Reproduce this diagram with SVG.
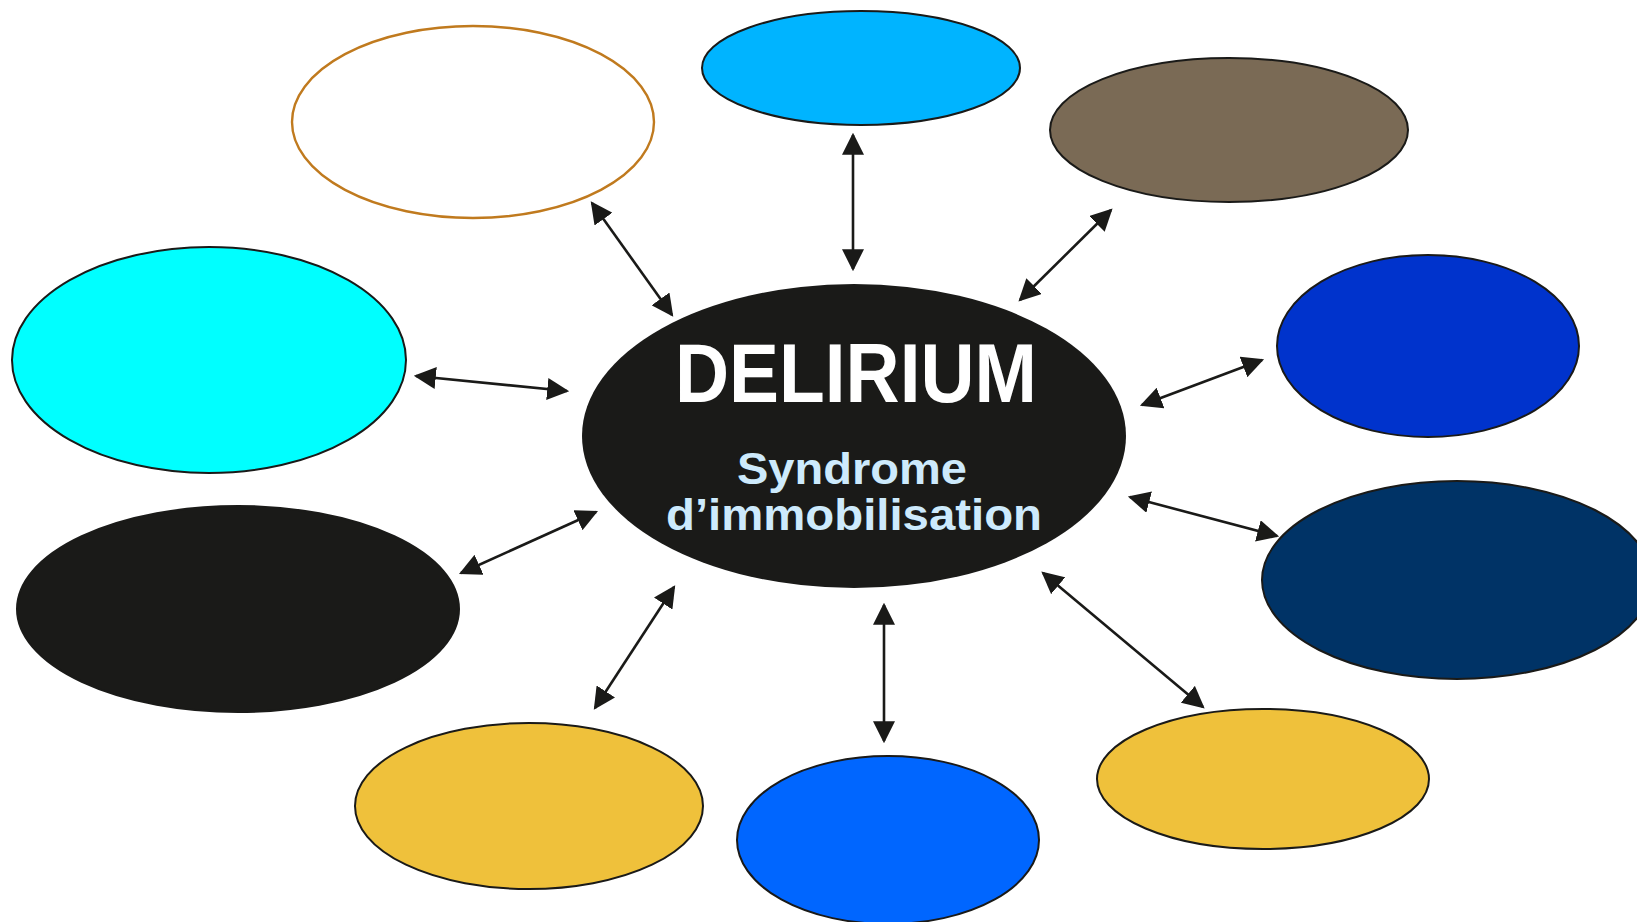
<svg xmlns="http://www.w3.org/2000/svg" width="1637" height="922" viewBox="0 0 1637 922">
<style>
.n{stroke:#1a1a18;stroke-width:2}
.c line{stroke:#1a1a18;stroke-width:2.6;marker-start:url(#ah);marker-end:url(#ah)}
.t{font-family:"Liberation Sans",Arial,sans-serif;font-weight:bold;text-anchor:middle}
</style>
<defs>
<marker id="ah" markerUnits="userSpaceOnUse" markerWidth="22" markerHeight="22" viewBox="0 0 20 20" refX="18" refY="10" orient="auto-start-reverse">
<path d="M0,0 L20,10 L0,20 z" fill="#1a1a18"/>
</marker>
</defs>
<rect width="1637" height="922" fill="#ffffff"/>
<g id="n1"><ellipse cx="473" cy="122" rx="181" ry="96" fill="#ffffff" stroke="#c07a1e" stroke-width="2.4"/></g>
<g id="n2"><ellipse class="n" cx="861" cy="68" rx="159" ry="57" fill="#00b4ff"/></g>
<g id="n3"><ellipse class="n" cx="1229" cy="130" rx="179" ry="72" fill="#7a6a55"/></g>
<g id="n4"><ellipse class="n" cx="209" cy="360" rx="197" ry="113" fill="#00ffff"/></g>
<g id="n5"><ellipse class="n" cx="1428" cy="346" rx="151" ry="91" fill="#0033cc"/></g>
<g id="n6"><ellipse class="n" cx="238" cy="609" rx="221" ry="103" fill="#1a1a18"/></g>
<g id="n7"><ellipse class="n" cx="1457" cy="580" rx="195" ry="99" fill="#003366"/></g>
<g id="n8"><ellipse class="n" cx="529" cy="806" rx="174" ry="83" fill="#efc13b"/></g>
<g id="n9"><ellipse class="n" cx="888" cy="840" rx="151" ry="84" fill="#0066ff"/></g>
<g id="n10"><ellipse class="n" cx="1263" cy="779" rx="166" ry="70" fill="#efc13b"/></g>
<g id="center">
<ellipse cx="854" cy="436" rx="272" ry="152" fill="#1a1a18"/>
<text class="t" x="856" y="402" font-size="84" fill="#ffffff" textLength="362" lengthAdjust="spacingAndGlyphs">DELIRIUM</text>
<text class="t" x="852" y="484" font-size="44" fill="#cdeafc" textLength="230" lengthAdjust="spacingAndGlyphs">Syndrome</text>
<text class="t" x="854" y="530" font-size="45" fill="#cdeafc" textLength="376" lengthAdjust="spacingAndGlyphs">d’immobilisation</text>
</g>
<g id="connectors" class="c">
<line x1="592" y1="203" x2="672" y2="315"/>
<line x1="416" y1="376" x2="567" y2="391"/>
<line x1="461" y1="573" x2="596" y2="512"/>
<line x1="853" y1="135" x2="853" y2="269"/>
<line x1="1111" y1="210" x2="1020" y2="300"/>
<line x1="1262" y1="360" x2="1142" y2="405"/>
<line x1="1130" y1="497" x2="1277" y2="536"/>
<line x1="1043" y1="573" x2="1203" y2="707"/>
<line x1="884" y1="605" x2="884" y2="741"/>
<line x1="674" y1="587" x2="595" y2="708"/>
</g>
</svg>
